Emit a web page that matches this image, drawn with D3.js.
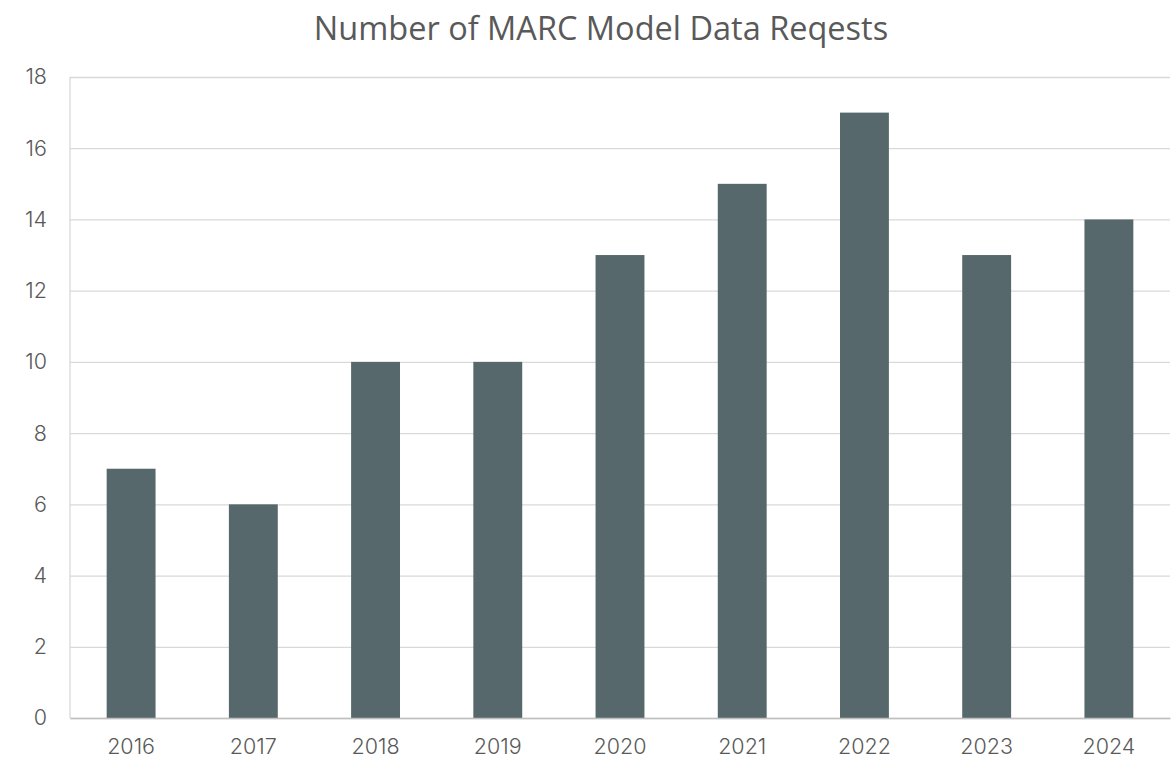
<!DOCTYPE html>
<html>
<head>
<meta charset="utf-8">
<script src="https://d3js.org/d3.v7.min.js"></script>
<style>
  body { margin: 0; background: #fff; }
  .tick text { font-family: Inter, "Open Sans", sans-serif; font-weight: 300; }
</style>
</head>
<body>
<div id="chart"></div>
<script>
var years = ["2016", "2017", "2018", "2019", "2020", "2021", "2022", "2023", "2024"];
var requests = [7, 6, 10, 10, 13, 15, 17, 13, 14];
var yTicks = [0, 2, 4, 6, 8, 10, 12, 14, 16, 18];

var W = 1176, H = 761;
var margin = {top: 77, right: 6, bottom: 43, left: 70};
var width = W - margin.left - margin.right;
var height = H - margin.top - margin.bottom;

var svg = d3.select('#chart').append('svg').attr('width', W).attr('height', H);

var chart = svg.append('g')
    .attr('transform', `translate(${margin.left}, ${margin.top})`);

var data = years.map((y, i) => ({year: y, value: requests[i]}));

var xScale = d3.scaleBand()
    .range([0, width])
    .domain(years)
    .paddingInner(0.6)
    .paddingOuter(0.3);

var yScale = d3.scaleLinear()
    .range([height, 0])
    .domain([0, 18]);

// gridlines
chart.append('g')
    .attr('class', 'grid')
    .call(d3.axisLeft(yScale).tickValues(yTicks).tickSize(-width).tickFormat(''))
    .call(g => g.select('.domain').remove())
    .call(g => g.selectAll('line').attr('stroke', '#d9d9d9').attr('stroke-width', 1.3));

// left line
chart.append('line')
    .attr('x1', 0).attr('x2', 0)
    .attr('y1', 0).attr('y2', height)
    .attr('stroke', '#d9d9d9').attr('stroke-width', 1.3);

chart.selectAll('.bar')
    .data(data)
    .enter()
    .append('rect')
    .attr('class', 'bar')
    .attr('fill', '#56686b')
    .attr('x', d => xScale(d.year))
    .attr('y', d => yScale(d.value))
    .attr('width', xScale.bandwidth())
    .attr('height', d => height - yScale(d.value));

// y axis labels
chart.append('g')
    .call(d3.axisLeft(yScale).tickValues(yTicks).tickSize(0).tickPadding(23))
    .call(g => g.select('.domain').remove())
    .call(g => g.selectAll('text').attr('fill', '#595959').style('font-size', '21.5px'));

// x axis
chart.append('g')
    .attr('transform', `translate(0, ${height})`)
    .call(d3.axisBottom(xScale).tickSize(0).tickPadding(21))
    .call(g => g.select('.domain').attr('stroke', '#bfbfbf').attr('stroke-width', 1.5))
    .call(g => g.selectAll('text').attr('fill', '#595959').style('font-size', '21.5px'));

svg.append('text')
    .attr('x', 601)
    .attr('y', 40)
    .attr('text-anchor', 'middle')
    .attr('fill', '#595959')
    .style('font-family', '"Open Sans", sans-serif')
    .style('font-size', '32.5px')
    .text('Number of MARC Model Data Reqests');
</script>
</body>
</html>
